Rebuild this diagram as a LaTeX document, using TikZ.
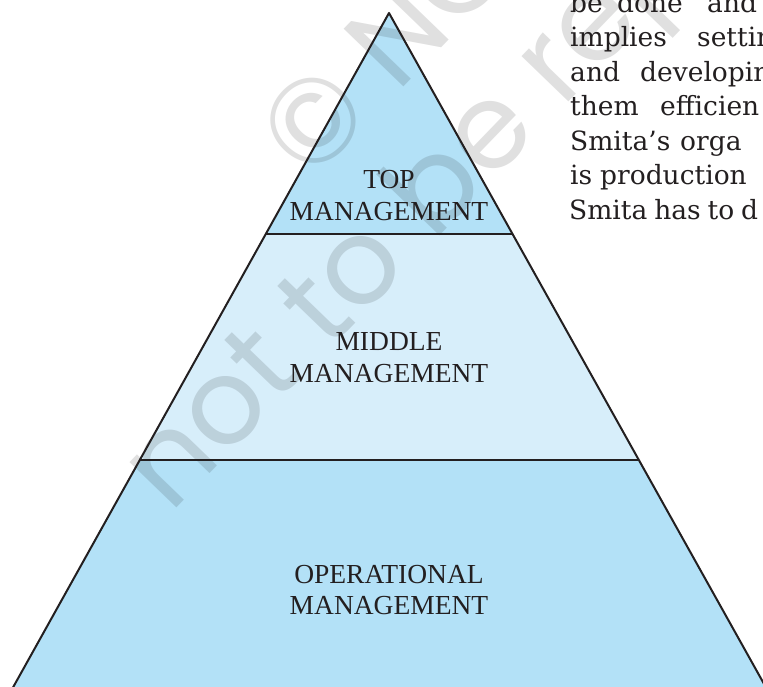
\documentclass[tikz,border=0pt]{standalone}
\usepackage{fontspec}
\setmainfont{Liberation Serif}
\newfontfamily\bodyfont{DejaVu Serif}
\newfontfamily\wmfont{Poppins}
\definecolor{pyrblue}{HTML}{B3E1F7}
\definecolor{pyrlight}{HTML}{D7EEFA}
\definecolor{ink}{HTML}{231F20}
\begin{document}
\begin{tikzpicture}[x=1pt,y=-1pt,
  edge/.style={draw=ink,line width=2pt,line cap=round,line join=round},
  divider/.style={draw=ink,line width=2.8pt},
  level/.style={font=\fontsize{27.5}{32}\selectfont,text=ink,inner sep=0pt,anchor=base},
  body/.style={font=\bodyfont\fontsize{26.5}{34}\selectfont,text=ink,inner sep=0pt,anchor=base west},
  wm/.style={font=\wmfont\fontsize{119}{119}\selectfont,text=black,text opacity=0.12,inner sep=0pt,anchor=base west,rotate=46}]
\useasboundingbox (0,0) rectangle (763,687);
\clip (0,0) rectangle (763,687);
% geometry
\coordinate (apex) at (389,13);
\coordinate (l1) at (266,234);
\coordinate (r1) at (513,234);
\coordinate (l2) at (140,460);
\coordinate (r2) at (639,460);
\coordinate (l3) at (6,700);
\coordinate (r3) at (773,700);
% fills
\fill[pyrblue] (apex) -- (r1) -- (l1) -- cycle;
\fill[pyrlight] (l1) -- (r1) -- (r2) -- (l2) -- cycle;
\fill[pyrblue] (l2) -- (r2) -- (r3) -- (l3) -- cycle;
% watermark
\node[wm] (wmb) at (170,515) {not to be republished};
\node[wm] (wma) at (310,184) {© NCERT};
% outlines
\draw[edge] (l3) -- (apex) -- (r3);
\draw[divider] (l1) -- (r1);
\draw[divider] (l2) -- (r2);
% level labels
\node[level] (topa) at (389,189) {TOP};
\node[level] (topb) at (389,221) {MANAGEMENT};
\node[level] (mida) at (389,350) {MIDDLE};
\node[level] (midb) at (389,382) {MANAGEMENT};
\node[level] (opa) at (389,583) {OPERATIONAL};
\node[level] (opb) at (389,614) {MANAGEMENT};
% running text at the right
\node[body] (t1a) at (570,12.5) {be};
\node[body] (t1b) at (617,12.5) {done};
\node[body] (t1c) at (707,12.5) {and};
\node[body] (t2a) at (570,47) {implies};
\node[body] (t2b) at (697,47) {settin};
\node[body] (t3a) at (570,81.5) {and};
\node[body] (t3b) at (640,81.5) {developin};
\node[body] (t4a) at (570,116) {them};
\node[body] (t4b) at (660,116) {efficien};
\node[body] (t5a) at (570,150.5) {Smita’s};
\node[body] (t5b) at (680,150.5) {orga};
\node[body] (t6a) at (570,185) {is};
\node[body] (t6b) at (600,185) {production};
\node[body] (t7a) at (569,220) {Smita\hspace{-1.5pt} has\hspace{-1.5pt} to\hspace{-1.5pt} d};
\end{tikzpicture}
\end{document}
